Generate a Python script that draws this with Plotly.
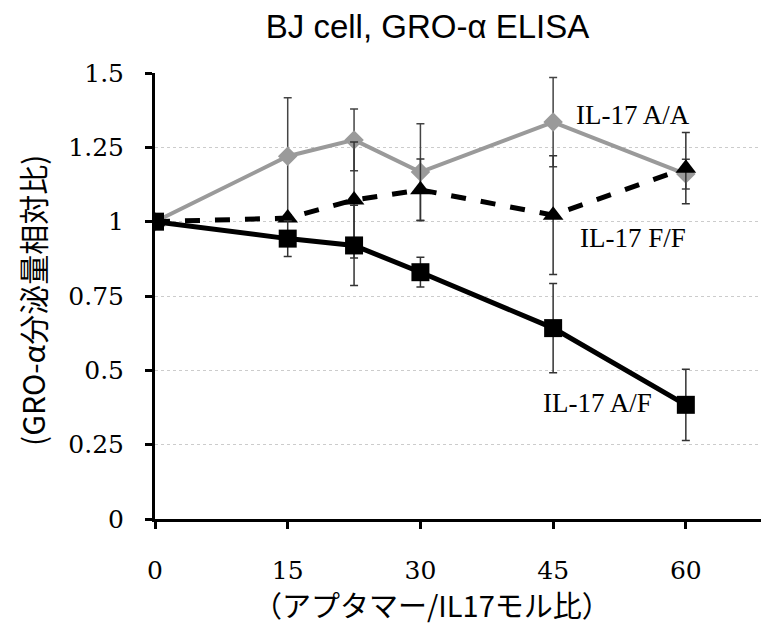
import plotly.graph_objects as go

x_vals = [0, 15, 22.5, 30, 45, 60]
aa_vals = [1.0, 1.22, 1.275, 1.167, 1.335, 1.16]
aa_err = [0.0, 0.197, 0.104, 0.162, 0.15, 0.05]
ff_vals = [1.0, 1.012, 1.073, 1.107, 1.022, 1.18]
ff_err = [0.0, 0.0, 0.195, 0.104, 0.2, 0.12]
af_vals = [1.0, 0.943, 0.92, 0.83, 0.642, 0.384]
af_err = [0.0, 0.06, 0.135, 0.05, 0.15, 0.12]

y_ticks = [0, 0.25, 0.5, 0.75, 1, 1.25, 1.5]
y_ticklabels = ["0", "0.25", "0.5", "0.75", "1", "1.25", "1.5"]
x_ticks = [0, 15, 30, 45, 60]

labels = ["IL-17 A/A", "IL-17 F/F", "IL-17 A/F"]
label_pos = [(54.0, 1.36), (54.0, 0.945), (50.0, 0.39)]

fig = go.Figure()

fig.add_trace(go.Scatter(
    x=x_vals, y=aa_vals, mode="lines+markers", name=labels[0],
    line=dict(color="#9a9a9a", width=4),
    marker=dict(symbol="diamond", size=15, color="#9a9a9a"),
    error_y=dict(type="data", array=aa_err, color="#444444", thickness=1.5, width=4),
))
fig.add_trace(go.Scatter(
    x=x_vals, y=ff_vals, mode="lines+markers", name=labels[1],
    line=dict(color="black", width=5, dash="dash"),
    marker=dict(symbol="triangle-up", size=18, color="black"),
    error_y=dict(type="data", array=ff_err, color="#333333", thickness=1.5, width=4),
))
fig.add_trace(go.Scatter(
    x=x_vals, y=af_vals, mode="lines+markers", name=labels[2],
    line=dict(color="black", width=5),
    marker=dict(symbol="square", size=18, color="black"),
    error_y=dict(type="data", array=af_err, color="#333333", thickness=1.5, width=4),
))

for txt, (lx, ly) in zip(labels, label_pos):
    fig.add_annotation(x=lx, y=ly, xref="x", yref="y", text=txt, showarrow=False,
                       font=dict(family="Liberation Serif", size=27, color="black"))

# axis titles
fig.add_annotation(x=0, y=0.489, xref="paper", yref="paper", xshift=-123,
                   text="(GRO-α分泌量相対比)", textangle=-90, showarrow=False,
                   xanchor="center", yanchor="middle", borderpad=0,
                   font=dict(family="Noto Sans CJK JP", size=30, color="black"))
fig.add_annotation(x=0.451, y=0, xref="paper", yref="paper", yshift=-85,
                   text="（アプタマー/IL17モル比）", showarrow=False,
                   xanchor="center", yanchor="middle",
                   font=dict(family="Noto Sans CJK JP", size=29, color="black"))

fig.update_layout(
    width=769, height=626,
    margin=dict(l=147, r=8, t=65, b=115),
    paper_bgcolor="white", plot_bgcolor="white",
    showlegend=False,
    title=dict(text="BJ cell, GRO-α ELISA", x=0.5455, xanchor="center", y=0.97, yanchor="middle",
               font=dict(family="Liberation Sans", size=33, color="black")),
)
fig.update_xaxes(
    range=[0, 69.4], tickvals=x_ticks, ticktext=[str(v) for v in x_ticks],
    showline=True, linecolor="black", linewidth=3,
    ticks="outside", ticklen=7, tickwidth=3, tickcolor="black",
    showgrid=False, zeroline=False, ticklabelstandoff=20,
    tickfont=dict(family="DejaVu Serif", size=25, color="black"),
)
fig.update_yaxes(
    range=[0, 1.5], tickvals=y_ticks, ticktext=y_ticklabels,
    showline=True, linecolor="black", linewidth=3,
    ticks="outside", ticklen=7, tickwidth=3, tickcolor="black",
    showgrid=True, gridcolor="#cccccc", griddash="dot", gridwidth=1,
    zeroline=False, ticklabelstandoff=16,
    tickfont=dict(family="DejaVu Serif", size=25, color="black"),
)

fig.write_html("out.html")
